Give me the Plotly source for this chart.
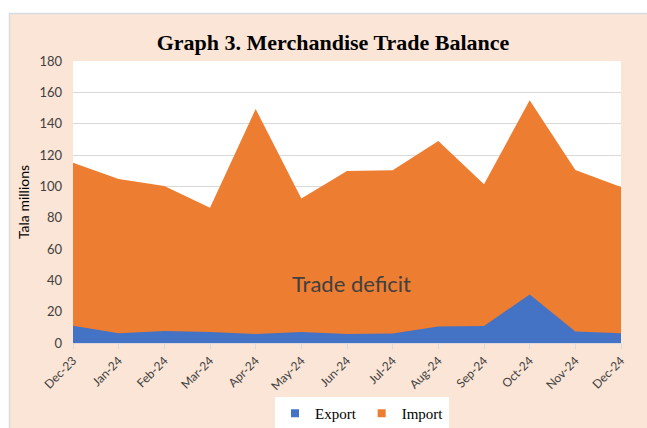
import plotly.graph_objects as go

months = ["Dec-23", "Jan-24", "Feb-24", "Mar-24", "Apr-24", "May-24", "Jun-24",
          "Jul-24", "Aug-24", "Sep-24", "Oct-24", "Nov-24", "Dec-24"]
imports = [115.0, 104.7, 100.2, 86.4, 149.3, 92.3, 109.8, 110.2, 128.9, 101.3, 155.0, 110.4, 99.5]
exports = [11.0, 6.2, 7.7, 7.0, 5.7, 7.0, 5.7, 6.0, 10.6, 10.8, 31.0, 7.4, 6.2]
y_ticks = [0, 20, 40, 60, 80, 100, 120, 140, 160, 180]

BLUE = "#4472C4"
ORANGE = "#ED7D31"
PEACH = "#FBE5D6"

W, H = 647, 428
L, R, T, B = 73, 621, 61, 343
pw, ph = R - L, B - T

fig = go.Figure()
fig.add_trace(go.Scatter(x=months, y=imports, mode="lines", fill="tozeroy",
                         line=dict(width=0, color=ORANGE), fillcolor=ORANGE,
                         showlegend=False, hoverinfo="skip"))
fig.add_trace(go.Scatter(x=months, y=exports, mode="lines", fill="tozeroy",
                         line=dict(width=0, color=BLUE), fillcolor=BLUE,
                         showlegend=False, hoverinfo="skip"))
# legend entries
fig.add_trace(go.Scatter(x=[None], y=[None], mode="markers", name="Export",
                         marker=dict(symbol="square", size=8, color=BLUE)))
fig.add_trace(go.Scatter(x=[None], y=[None], mode="markers", name="Import",
                         marker=dict(symbol="square", size=8, color=ORANGE)))

fig.add_shape(type="rect", xref="paper", yref="paper",
              x0=(9.5 - L) / pw, x1=(W + 20 - L) / pw,
              y0=(B - H - 20) / ph, y1=(B - 13.5) / ph,
              fillcolor=PEACH, line=dict(color="#D6DCE4", width=1.5), layer="below")
fig.add_shape(type="rect", xref="paper", yref="paper", x0=0, x1=1, y0=0, y1=1,
              fillcolor="white", line=dict(width=0), layer="below")

fig.add_annotation(x=6.1, y=38, xref="x", yref="y", text="Trade deficit",
                   showarrow=False, font=dict(family="Lato", size=22, color="#404040"))

fig.update_layout(
    width=W, height=H,
    margin=dict(l=L, r=W - R, t=T, b=H - B, autoexpand=False),
    paper_bgcolor="white", plot_bgcolor="rgba(0,0,0,0)",
    title=dict(text="<b>Graph 3. Merchandise Trade Balance</b>",
               font=dict(family="Liberation Serif", size=22, color="black"),
               x=(333 - L) / pw, xref="paper", xanchor="center",
               y=1 - 42 / H, yref="container", yanchor="middle", automargin=False),
    legend=dict(orientation="h", x=(362 - L) / pw, xanchor="center",
                y=(B - 397) / ph, yanchor="top", bgcolor="white",
                font=dict(family="Liberation Serif", size=15, color="black"),
                itemwidth=30, tracegroupgap=0),
    xaxis=dict(type="category", range=[0, len(months) - 1], showgrid=False,
               showline=True, linecolor="#D9D9D9", ticks="outside", ticklen=5,
               tickcolor="#D9D9D9", tickangle=-45, automargin=False,
               tickfont=dict(family="Lato", size=12, color="#404040")),
    yaxis=dict(range=[0, 180], tickvals=y_ticks, showgrid=True, gridcolor="#D9D9D9",
               gridwidth=1, zeroline=False, showline=False, ticks="",
               ticklabelstandoff=10, automargin=False,
               tickfont=dict(family="Lato", size=13, color="#404040"),
               title=dict(text="Tala millions", standoff=6,
                          font=dict(family="Lato", size=14, color="black"))),
)

fig.write_html("out.html")
